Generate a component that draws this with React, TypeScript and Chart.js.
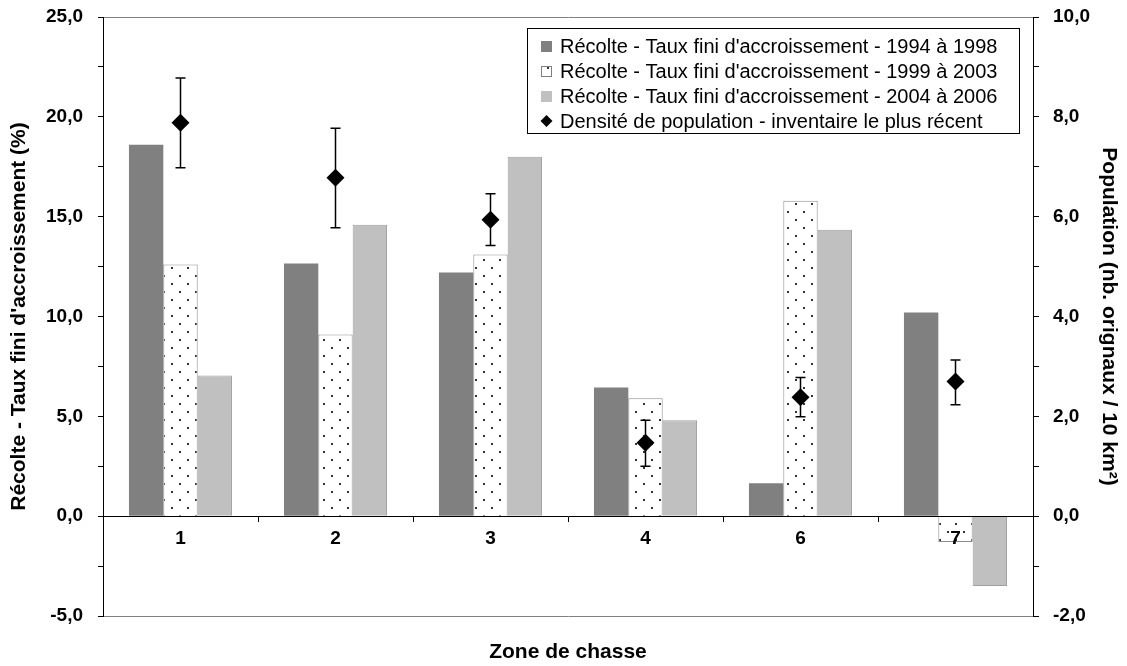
import React, { useEffect, useRef } from 'react';
import { Chart, registerables } from 'chart.js';

Chart.register(...registerables);

const categories = ['1', '2', '3', '4', '6', '7'];
const harvest1994to1998 = [18.6, 12.65, 12.2, 6.45, 1.65, 10.2];
const harvest1999to2003 = [12.6, 9.1, 13.1, 5.9, 15.8, -1.3];
const harvest2004to2006 = [7.05, 14.6, 18.0, 4.8, 14.35, -3.5];
const density = [7.88, 6.78, 5.94, 1.47, 2.38, 2.7];
const densityLow = [6.98, 5.78, 5.42, 1.0, 1.99, 2.23];
const densityHigh = [8.78, 7.77, 6.46, 1.92, 2.78, 3.13];
const seriesLabels = [
  "Récolte - Taux fini d'accroissement - 1994 à 1998",
  "Récolte - Taux fini d'accroissement - 1999 à 2003",
  "Récolte - Taux fini d'accroissement - 2004 à 2006",
  'Densité de population - inventaire le plus récent',
];
const leftTitle = "Récolte - Taux fini d'accroissement (%)";
const rightTitle = 'Population (nb. orignaux / 10 km²)';
const xTitle = 'Zone de chasse';

const FONT = "'Liberation Sans', Arial, sans-serif";
const fmt = (v: number) => v.toFixed(1).replace('.', ',');

function makeDots(): CanvasPattern | string {
  const c = document.createElement('canvas');
  c.width = 16;
  c.height = 16;
  const g = c.getContext('2d');
  if (!g) return '#fff';
  g.fillStyle = '#ffffff';
  g.fillRect(0, 0, 16, 16);
  g.fillStyle = '#333333';
  g.fillRect(3, 3, 2, 2);
  g.fillRect(11, 11, 2, 2);
  return g.createPattern(c, 'repeat') || '#fff';
}

export default function App() {
  const ref = useRef<HTMLCanvasElement | null>(null);

  useEffect(() => {
    if (!ref.current) return;
    const dots = makeDots();

    const errorBars = {
      id: 'errorBars',
      beforeDatasetDraw(chart: any, args: any) {
        if (args.index !== 3) return;
        const meta = chart.getDatasetMeta(3);
        const y2 = chart.scales.y2;
        const ctx = chart.ctx;
        ctx.save();
        ctx.strokeStyle = '#000';
        ctx.lineWidth = 1.5;
        meta.data.forEach((pt: any, i: number) => {
          const x = pt.x;
          const yl = y2.getPixelForValue(densityLow[i]);
          const yh = y2.getPixelForValue(densityHigh[i]);
          ctx.beginPath();
          ctx.moveTo(x, yl);
          ctx.lineTo(x, yh);
          ctx.moveTo(x - 5, yl);
          ctx.lineTo(x + 5, yl);
          ctx.moveTo(x - 5, yh);
          ctx.lineTo(x + 5, yh);
          ctx.stroke();
        });
        ctx.restore();
      },
    };

    const legendBox = {
      id: 'legendBox',
      afterDraw(chart: any) {
        const ctx = chart.ctx;
        const bx = 527, by = 28, bw = 492, bh = 105;
        ctx.save();
        ctx.fillStyle = '#fff';
        ctx.fillRect(bx, by, bw, bh);
        ctx.strokeStyle = '#000';
        ctx.lineWidth = 1;
        ctx.strokeRect(bx + 0.5, by + 0.5, bw, bh);
        const rows = [46, 71, 96, 121];
        ctx.font = `20px ${FONT}`;
        ctx.textBaseline = 'middle';
        ctx.textAlign = 'left';
        rows.forEach((y, i) => {
          const mx = 541;
          if (i === 0) {
            ctx.fillStyle = '#808080';
            ctx.fillRect(mx, y - 5, 11, 11);
          } else if (i === 1) {
            ctx.fillStyle = dots;
            ctx.fillRect(mx, y - 5, 11, 11);
            ctx.strokeStyle = '#808080';
            ctx.strokeRect(mx + 0.5, y - 4.5, 10, 10);
          } else if (i === 2) {
            ctx.fillStyle = '#c0c0c0';
            ctx.fillRect(mx, y - 5, 11, 11);
          } else {
            ctx.fillStyle = '#000';
            ctx.beginPath();
            ctx.moveTo(mx + 5.5, y - 6);
            ctx.lineTo(mx + 11.5, y);
            ctx.lineTo(mx + 5.5, y + 6);
            ctx.lineTo(mx - 0.5, y);
            ctx.closePath();
            ctx.fill();
          }
          ctx.fillStyle = '#000';
          ctx.fillText(seriesLabels[i], 560, y + 1);
        });
        ctx.restore();
      },
    };

    const tickFont = { family: FONT, size: 19, weight: 'bold' as const };
    const titleFont = { family: FONT, size: 21, weight: 'bold' as const };

    const chart = new Chart(ref.current, {
      type: 'bar',
      data: {
        labels: categories,
        datasets: [
          {
            label: seriesLabels[0],
            data: harvest1994to1998,
            backgroundColor: '#808080',
            borderColor: '#808080',
            borderWidth: 0,
            yAxisID: 'y',
            order: 1,
          },
          {
            label: seriesLabels[1],
            data: harvest1999to2003,
            backgroundColor: dots as any,
            borderColor: '#8c8c8c',
            borderWidth: 1,
            yAxisID: 'y',
            order: 1,
          },
          {
            label: seriesLabels[2],
            data: harvest2004to2006,
            backgroundColor: '#c0c0c0',
            borderColor: '#a0a0a0',
            borderWidth: 1,
            yAxisID: 'y',
            order: 1,
          },
          {
            type: 'line' as const,
            label: seriesLabels[3],
            data: density,
            yAxisID: 'y2',
            showLine: false,
            pointStyle: 'rectRot',
            pointRadius: 9,
            pointBackgroundColor: '#000',
            pointBorderColor: '#000',
            pointBorderWidth: 0,
            order: 0,
          } as any,
        ],
      },
      options: {
        responsive: false,
        animation: false,
        devicePixelRatio: 1,
        layout: { padding: { top: 17, left: 0, right: 0, bottom: 0 } },
        datasets: {
          bar: { categoryPercentage: 0.665, barPercentage: 1 },
        },
        plugins: {
          legend: { display: false },
          tooltip: { enabled: false },
          title: {
            display: true,
            text: xTitle,
            position: 'bottom',
            fullSize: false,
            color: '#000',
            font: titleFont,
            padding: { top: 24, bottom: 0.8 },
          },
        },
        scales: {
          x: {
            type: 'category',
            position: { y: 0 } as any,
            offset: true,
            grid: {
              display: true,
              drawOnChartArea: false,
              drawTicks: true,
              tickLength: 5,
              color: '#000',
              offset: true,
            },
            border: { display: true, color: '#000', width: 1, z: 1 },
            ticks: { color: '#000', font: tickFont, padding: 6, z: 1 },
          },
          y: {
            position: 'left',
            min: -5,
            max: 25,
            ticks: {
              stepSize: 2.5,
              color: '#000',
              font: tickFont,
              padding: 15,
              callback: (v: any) => (Math.abs(v % 5) < 1e-9 ? fmt(Number(v)) : ''),
            },
            grid: {
              color: (c: any) =>
                c.tick && (c.tick.value === 25 || c.tick.value === -5) ? '#808080' : 'rgba(0,0,0,0)',
              tickColor: '#000',
              tickLength: 5,
            },
            border: { display: true, color: '#000', width: 1 },
            title: {
              display: true,
              text: leftTitle,
              color: '#000',
              font: titleFont,
              padding: { top: 7, bottom: 0 },
            },
            afterFit: (s: any) => {
              s.width = 103;
              s.paddingTop = 0;
              s.paddingBottom = 0;
            },
          },
          y2: {
            position: 'right',
            min: -2,
            max: 10,
            ticks: {
              stepSize: 1,
              color: '#000',
              font: tickFont,
              padding: 14,
              callback: (v: any) => (Math.abs(v % 2) < 1e-9 ? fmt(Number(v)) : ''),
            },
            grid: {
              drawOnChartArea: false,
              color: '#000',
              tickLength: 6,
            },
            border: { display: true, color: '#000', width: 1 },
            title: {
              display: true,
              text: rightTitle,
              color: '#000',
              font: titleFont,
              padding: { top: 6, bottom: 0 },
            },
            afterFit: (s: any) => {
              s.width = 94;
              s.paddingTop = 0;
              s.paddingBottom = 0;
            },
          },
        },
      },
      plugins: [errorBars, legendBox],
    });

    return () => chart.destroy();
  }, []);

  return (
    <div style={{ position: 'absolute', left: 0, top: 0, width: 1127, height: 666, background: '#fff' }}>
      <canvas ref={ref} width={1127} height={666} style={{ display: 'block' }} />
    </div>
  );
}
